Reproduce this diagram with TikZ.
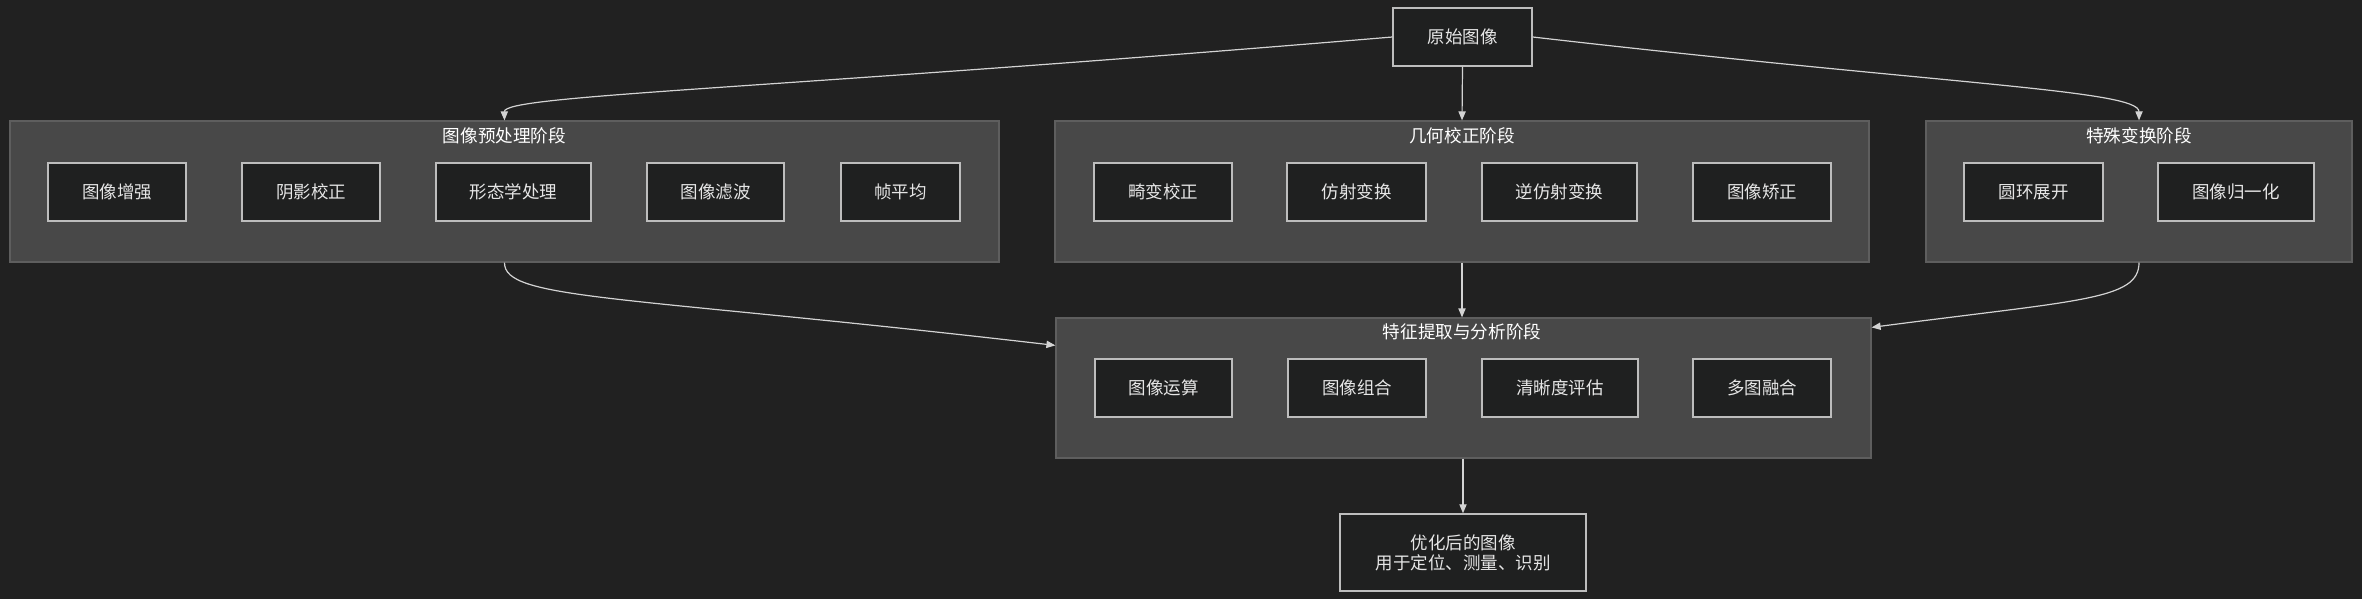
\documentclass[tikz,border=0pt]{standalone}
\usepackage{fontspec}
\setmainfont{Noto Sans CJK SC}
\usetikzlibrary{arrows.meta,calc}
\definecolor{bgc}{HTML}{212121}
\definecolor{clfill}{HTML}{484848}
\definecolor{cldraw}{HTML}{5E5E5E}
\definecolor{ndfill}{HTML}{1F2020}
\definecolor{nddraw}{HTML}{BDBDBD}
\definecolor{txt}{HTML}{E6E6E6}
\definecolor{lnc}{HTML}{D3D3D3}
\tikzset{
  clbox/.style={draw=cldraw, fill=clfill, line width=0.6pt, inner sep=0pt},
  ndbox/.style={draw=nddraw, fill=ndfill, line width=0.7pt, inner sep=0pt, text=txt, font=\fontsize{8.75}{10}\selectfont, align=center},
  cltitle/.style={text=white, inner sep=0pt, font=\fontsize{8.8}{10}\selectfont},
  conn/.style={draw=lnc, line width=0.6pt, -{Triangle[length=4.5pt,width=3.6pt]}}
}
\newcommand{\bx}[7]{\node[#1, minimum width={#5*0.5pt}, minimum height={#6*0.5pt}] (#2) at (#3,#4) {#7};}
\begin{document}
\begin{tikzpicture}[x=0.5pt,y=-0.5pt]
\fill[bgc] (0,0) rectangle (2362,599);
\useasboundingbox (0,0) rectangle (2362,599);
% clusters
\bx{clbox}{c1}{504.5}{191.5}{989}{141}{}
\bx{clbox}{c2}{1462}{191.5}{814}{141}{}
\bx{clbox}{c3}{2139}{191.5}{426}{141}{}
\bx{clbox}{c4}{1463.5}{388}{815}{140}{}
\node[cltitle] (t1) at (504.5,136) {图像预处理阶段};
\node[cltitle] (t2) at (1462,136) {几何校正阶段};
\node[cltitle] (t3) at (2139,136) {特殊变换阶段};
\node[cltitle] (t4) at (1462,332) {特征提取与分析阶段};
% nodes
\bx{ndbox}{src}{1462.5}{37}{139}{58}{原始图像}
\bx{ndbox}{a1}{117}{192}{138}{58}{图像增强}
\bx{ndbox}{a2}{311}{192}{138}{58}{阴影校正}
\bx{ndbox}{a3}{513.5}{192}{155}{58}{形态学处理}
\bx{ndbox}{a4}{715.5}{192}{137}{58}{图像滤波}
\bx{ndbox}{a5}{900.5}{192}{119}{58}{帧平均}
\bx{ndbox}{b1}{1163}{192}{138}{58}{畸变校正}
\bx{ndbox}{b2}{1356.5}{192}{139}{58}{仿射变换}
\bx{ndbox}{b3}{1559.5}{192}{155}{58}{逆仿射变换}
\bx{ndbox}{b4}{1762}{192}{138}{58}{图像矫正}
\bx{ndbox}{s1}{2033.5}{192}{139}{58}{圆环展开}
\bx{ndbox}{s2}{2236}{192}{156}{58}{图像归一化}
\bx{ndbox}{d1}{1163.5}{388}{137}{58}{图像运算}
\bx{ndbox}{d2}{1357}{388}{138}{58}{图像组合}
\bx{ndbox}{d3}{1560}{388}{156}{58}{清晰度评估}
\bx{ndbox}{d4}{1762}{388}{138}{58}{多图融合}
\bx{ndbox}{fin}{1463}{552.5}{246}{77}{优化后的图像\\用于定位、测量、识别}
% connectors
\coordinate (c4l) at ($(c4.north west)+(0,28)$);
\coordinate (c4r) at ($(c4.north east)+(0,10)$);
\draw[conn] (src.west) .. controls (760,90) and (504,95) .. (c1.north);
\draw[conn] (src.east) .. controls (1950,85) and (2139,90) .. (c3.north);
\draw[conn] (src.south) -- (c2.north);
\draw[conn] (c1.south) .. controls (504,300) and (620,295) .. (c4l);
\draw[conn] (c2.south) -- (c2.south |- c4.north);
\draw[conn] (c3.south) .. controls (2139,300) and (2080,300) .. (c4r);
\draw[conn] (c4.south -| fin.north) -- (fin.north);
\end{tikzpicture}
\end{document}
